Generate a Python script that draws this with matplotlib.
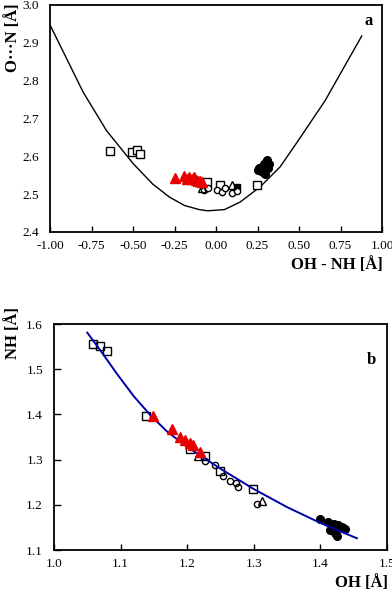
import numpy as np
import matplotlib
matplotlib.use('Agg')
import matplotlib.pyplot as plt

plt.rcParams['font.family'] = ['Liberation Serif', 'DejaVu Serif']
plt.rcParams['font.size'] = 10

# ---- panel a : O...N vs OH - NH ----
a_curve_x = [-1.0, -0.8, -0.66, -0.5, -0.38, -0.28, -0.19, -0.1, -0.05, 0.05, 0.145, 0.265, 0.386, 0.496, 0.657, 0.878]
a_curve_y = [2.947, 2.769, 2.668, 2.581, 2.526, 2.492, 2.470, 2.459, 2.456, 2.459, 2.479, 2.519, 2.572, 2.642, 2.747, 2.918]

a_sq_x = [-0.639, -0.506, -0.476, -0.46, -0.056, 0.024, 0.249]
a_sq_y = [2.613, 2.611, 2.616, 2.607, 2.532, 2.524, 2.524]
a_sqf_x = [0.125]
a_sqf_y = [2.52]
a_tri_x = [-0.25, -0.19, -0.175, -0.16, -0.146, -0.133, -0.123, -0.11, -0.098, -0.085]
a_tri_y = [2.542, 2.547, 2.54, 2.544, 2.54, 2.545, 2.538, 2.535, 2.536, 2.533]
a_otri_x = [-0.086, 0.094]
a_otri_y = [2.517, 2.524]
a_circ_x = [-0.072, -0.046, 0.004, 0.034, 0.054, 0.094, 0.128]
a_circ_y = [2.511, 2.515, 2.511, 2.506, 2.517, 2.504, 2.509]
a_fc_x = [0.25, 0.26, 0.27, 0.28, 0.29, 0.30, 0.31, 0.30, 0.29, 0.295, 0.28, 0.32, 0.315]
a_fc_y = [2.565, 2.57, 2.562, 2.575, 2.58, 2.585, 2.59, 2.57, 2.56, 2.553, 2.558, 2.58, 2.57]

# ---- panel b : NH vs OH ----
b_curve_x = [1.05, 1.07, 1.095, 1.12, 1.145, 1.17, 1.2, 1.22, 1.25, 1.3, 1.35, 1.4, 1.455]
b_curve_y = [1.581, 1.541, 1.489, 1.440, 1.398, 1.362, 1.328, 1.309, 1.280, 1.235, 1.195, 1.160, 1.126]

b_sq_x = [1.059, 1.069, 1.079, 1.138, 1.204, 1.227, 1.249, 1.299]
b_sq_y = [1.557, 1.551, 1.541, 1.396, 1.323, 1.308, 1.275, 1.236]
b_tri_x = [1.149, 1.178, 1.189, 1.197, 1.204, 1.209, 1.219]
b_tri_y = [1.397, 1.368, 1.350, 1.343, 1.337, 1.332, 1.318]
b_otri_x = [1.217, 1.312]
b_otri_y = [1.307, 1.208]
b_circ_x = [1.227, 1.242, 1.254, 1.264, 1.274, 1.277, 1.305]
b_circ_y = [1.298, 1.288, 1.264, 1.252, 1.249, 1.240, 1.202]
b_fc_x = [1.399, 1.412, 1.417, 1.424, 1.427, 1.432, 1.422, 1.425, 1.434, 1.414, 1.437, 1.420]
b_fc_y = [1.168, 1.161, 1.152, 1.144, 1.155, 1.152, 1.137, 1.131, 1.148, 1.144, 1.146, 1.158]

RED = '#e80000'
BLUE = '#0000a8'

fig = plt.figure(figsize=(3.92, 5.93), dpi=100)
ax1 = fig.add_axes([0.1276, 0.6088, 0.847, 0.383])
ax2 = fig.add_axes([0.1378, 0.0725, 0.849, 0.381])

# panel a
ax1.plot(a_curve_x, a_curve_y, color='black', lw=1.0, zorder=2)
ax1.plot(a_fc_x, a_fc_y, 'o', color='black', ms=5.5, zorder=3)
ax1.plot(a_sq_x, a_sq_y, 's', mfc='white', mec='black', mew=1.0, ms=5.5, zorder=4)
ax1.plot(a_sqf_x, a_sqf_y, 's', mfc='black', mec='black', ms=5, zorder=4)
ax1.plot(a_circ_x, a_circ_y, 'o', mfc='white', mec='black', mew=1.0, ms=4.5, zorder=4)
ax1.plot(a_otri_x, a_otri_y, '^', mfc='none', mec='black', mew=1.0, ms=6, zorder=4)
ax1.plot(a_tri_x, a_tri_y, '^', color=RED, ms=7, zorder=5)

ax1.set_xlim(-1.0, 1.0)
ax1.set_ylim(2.4, 3.0)
ax1.set_xticks(np.arange(-1.0, 1.01, 0.25))
ax1.set_xticklabels(['-1.00', '-0.75', '-0.50', '-0.25', '0.00', '0.25', '0.50', '0.75', '1.00'])
ax1.set_yticks([2.4, 2.5, 2.6, 2.7, 2.8, 2.9, 3.0])
ax1.set_yticklabels(['2.4', '2.5', '2.6', '2.7', '2.8', '2.9', '3.0'])
ax1.tick_params(axis='x', direction='in', length=4, width=1, pad=6, labelsize=9.5)
ax1.tick_params(axis='y', direction='in', length=0, pad=8, labelsize=9.5)
ax1.text(0.96, 0.93, 'a', transform=ax1.transAxes, fontsize=12, fontweight='bold',
         ha='center', va='center')
fig.text(0.977, 0.553, 'OH - NH [Å]', fontsize=12, fontweight='bold', ha='right', va='center')
fig.text(0.033, 0.995, 'O\u00b7\u00b7\u00b7N [Å]', fontsize=12, fontweight='bold', rotation=90,
         ha='center', va='top')

# panel b
ax2.plot(b_fc_x, b_fc_y, 'o', color='black', ms=5.5, zorder=2)
ax2.plot(b_sq_x, b_sq_y, 's', mfc='none', mec='black', mew=1.0, ms=5.5, zorder=3)
ax2.plot(b_circ_x, b_circ_y, 'o', mfc='none', mec='black', mew=1.0, ms=4.5, zorder=3)
ax2.plot(b_otri_x, b_otri_y, '^', mfc='none', mec='black', mew=1.0, ms=6, zorder=3)
ax2.plot(b_curve_x, b_curve_y, color=BLUE, lw=1.4, zorder=4)
ax2.plot(b_tri_x, b_tri_y, '^', color=RED, ms=7, zorder=5)

ax2.set_xlim(1.0, 1.5)
ax2.set_ylim(1.1, 1.6)
ax2.set_xticks([1.0, 1.1, 1.2, 1.3, 1.4, 1.5])
ax2.set_xticklabels(['1.0', '1.1', '1.2', '1.3', '1.4', '1.5'])
ax2.set_yticks([1.1, 1.2, 1.3, 1.4, 1.5, 1.6])
ax2.set_yticklabels(['1.1', '1.2', '1.3', '1.4', '1.5', '1.6'])
ax2.tick_params(axis='x', direction='in', length=4, width=1, pad=6, labelsize=9.5)
ax2.tick_params(axis='y', direction='in', length=5, width=1, pad=8, labelsize=9.5)
ax2.text(0.955, 0.84, 'b', transform=ax2.transAxes, fontsize=12, fontweight='bold',
         ha='center', va='center')
fig.text(0.99, 0.017, 'OH [Å]', fontsize=12, fontweight='bold', ha='right', va='center')
fig.text(0.033, 0.482, 'NH [Å]', fontsize=12, fontweight='bold', rotation=90,
         ha='center', va='top')

for ax in (ax1, ax2):
    for s in ax.spines.values():
        s.set_linewidth(1.3)

fig.savefig('out.png', dpi=100)
